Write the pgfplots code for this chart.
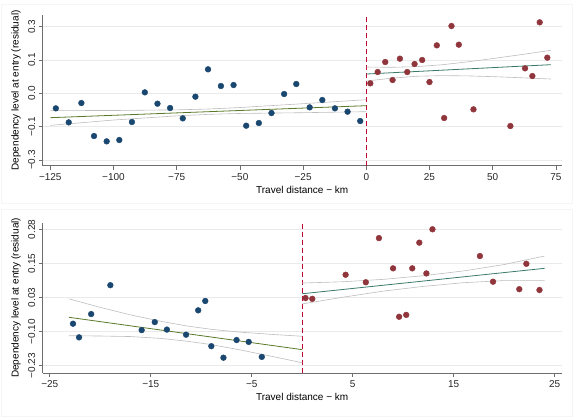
\documentclass[border=0pt]{standalone}
\usepackage{fontspec}
\setmainfont{Liberation Sans}
\usepackage{pgfplots}
\pgfplotsset{compat=1.18}
\definecolor{sblue}{HTML}{1A476F}
\definecolor{sred}{HTML}{90353B}
\definecolor{fitg}{HTML}{5A7A2A}
\definecolor{fitt}{HTML}{3A7A6A}
\definecolor{cig}{HTML}{BDBDBD}
\definecolor{vline}{HTML}{C10534}
\definecolor{gridc}{HTML}{EAEAEA}
\definecolor{axc}{HTML}{6E6E6E}
\pgfplotsset{mystyle/.style={
  scale only axis, width=519pt,
  axis x line*=bottom, axis y line*=left,
  axis line style={-, axc, line width=0.7pt},
  ymajorgrids, grid style={gridc, line width=0.6pt},
  tick align=outside, major tick length=4pt,
  tick style={axc, line width=0.7pt},
  every tick label/.append style={font=\fontsize{10}{12}\selectfont, text=black!85},
  yticklabel style={rotate=90, anchor=south},
  label style={font=\fontsize{11}{13}\selectfont, text=black!85},
  every axis y label/.style={at={(axis description cs:-0.0515,0.5)}, rotate=90, anchor=center},
  ylabel={Dependency level at entry (residual)},
  xlabel={Travel distance − km},
  clip=false,
}}
\begin{document}
\begin{tikzpicture}
\useasboundingbox (0,0) rectangle (573pt,-418pt);
\draw[gridc!50, line width=0.5pt] (1pt,-4pt) rectangle (572pt,-203pt);
\draw[gridc!50, line width=0.5pt] (1pt,-209pt) rectangle (572pt,-416pt);
% ---------------- top panel
\begin{axis}[mystyle,
  at={(42.7pt,-165.7pt)}, anchor=south west, height=150.7pt,
  xmin=-128, xmax=77.3, ymin=-0.217, ymax=0.235,
  xtick={-125,-100,-75,-50,-25,0,25,50,75},
  xticklabels={−125,−100,−75,−50,−25,0,25,50,75},
  ytick={-0.2,-0.1,0,0.1,0.2},
  yticklabel={\ifcase\ticknum −0.3\or −0.1\or 0.0\or 0.1\or 0.3\fi},
  every axis x label/.style={at={(axis description cs:0.5,-0.161)}, anchor=center},
]
\addplot[vline, line width=0.8pt, dash pattern=on 5pt off 3pt] coordinates {(0,-0.217) (0,0.235)};
\addplot[cig, line width=0.6pt] coordinates {(-125,-0.051) (-100,-0.0515) (-75,-0.0495) (-62.5,-0.047) (-50,-0.0425) (-25,-0.031) (0,-0.019)};
\addplot[cig, line width=0.6pt] coordinates {(-125,-0.096) (-100,-0.080) (-75,-0.0675) (-62.5,-0.063) (-50,-0.0603) (-25,-0.058) (0,-0.055)};
\addplot[fitg, line width=0.8pt] coordinates {(-125,-0.073) (0,-0.037)};
\addplot[cig, line width=0.6pt] coordinates {(0,0.079) (10,0.0781) (20,0.0801) (30,0.0858) (40,0.0944) (50,0.1043) (60,0.1148) (73,0.129)};
\addplot[cig, line width=0.6pt] coordinates {(0,0.037) (10,0.0455) (20,0.0513) (30,0.0532) (40,0.0524) (50,0.0501) (60,0.0472) (73,0.043)};
\addplot[fitt, line width=0.8pt] coordinates {(0,0.058) (73,0.086)};
\addplot[only marks, mark=*, mark size=2.9pt, sblue] coordinates {
(-122.8,-0.045) (-117.7,-0.087) (-112.7,-0.029) (-107.7,-0.128) (-102.7,-0.144)
(-97.7,-0.140) (-92.7,-0.086) (-87.6,0.003) (-82.6,-0.031) (-77.6,-0.044)
(-72.6,-0.075) (-67.6,-0.010) (-62.6,0.072) (-57.5,0.022) (-52.5,0.025)
(-47.5,-0.097) (-42.5,-0.089) (-37.5,-0.059) (-32.5,-0.002) (-27.7,0.028)
(-22.4,-0.042) (-17.4,-0.020) (-12.4,-0.045) (-7.4,-0.055) (-2.4,-0.083)};
\addplot[only marks, mark=*, mark size=2.9pt, sred] coordinates {
(1.6,0.030) (4.5,0.064) (7.5,0.094) (10.4,0.040) (13.3,0.104)
(16.2,0.064) (19.1,0.088) (22.1,0.100) (25.0,0.034) (27.9,0.144)
(30.8,-0.074) (33.7,0.202) (36.6,0.146) (42.4,-0.048) (57.0,-0.098)
(62.8,0.075) (65.7,0.052) (68.6,0.213) (71.6,0.107)};
\end{axis}
% ---------------- bottom panel
\begin{axis}[mystyle,
  at={(42.7pt,-373pt)}, anchor=south west, height=150.3pt,
  xmin=-25.7, xmax=25.7, ymin=-0.2573, ymax=0.3046,
  xtick={-25,-15,-5,5,15,25},
  xticklabels={−25,−15,−5,5,15,25},
  ytick={-0.23,-0.1025,0.025,0.1525,0.28},
  yticklabel={\ifcase\ticknum −0.23\or −0.10\or 0.03\or 0.15\or 0.28\fi},
  every axis x label/.style={at={(axis description cs:0.5,-0.158)}, anchor=center},
]
\addplot[vline, line width=0.8pt, dash pattern=on 5pt off 3pt] coordinates {(0,-0.2573) (0,0.3046)};
\addplot[cig, line width=0.6pt] coordinates {(-23.1,0.020) (-20,-0.012) (-17,-0.040) (-14,-0.064) (-11.5,-0.081) (-9,-0.094) (-6,-0.105) (-3,-0.113) (0,-0.120)};
\addplot[cig, line width=0.6pt] coordinates {(-23.1,-0.118) (-20,-0.119) (-17,-0.121) (-14,-0.128) (-11.5,-0.138) (-9,-0.151) (-6,-0.172) (-3,-0.195) (0,-0.219)};
\addplot[fitg, line width=0.8pt] coordinates {(-23.1,-0.049) (0,-0.170)};
\addplot[cig, line width=0.6pt] coordinates {(0,0.079) (4,0.0838) (8,0.0927) (12,0.1065) (16,0.1244) (20,0.1482) (24,0.180)};
\addplot[cig, line width=0.6pt] coordinates {(0,0.001) (4,0.0258) (8,0.0487) (12,0.0665) (16,0.0804) (20,0.0882) (24,0.088)};
\addplot[fitt, line width=0.8pt] coordinates {(0,0.039) (24,0.134)};
\addplot[only marks, mark=*, mark size=2.9pt, sblue] coordinates {
(-22.7,-0.073) (-22.1,-0.124) (-20.9,-0.037) (-19.0,0.071) (-15.9,-0.097)
(-14.6,-0.067) (-13.4,-0.095) (-11.5,-0.114) (-10.3,-0.023) (-9.6,0.012)
(-9.0,-0.157) (-7.8,-0.200) (-6.5,-0.134) (-5.3,-0.141) (-4.0,-0.197)};
\addplot[only marks, mark=*, mark size=2.9pt, sred] coordinates {
(0.33,0.023) (1.0,0.020) (4.3,0.110) (6.3,0.082) (7.6,0.247)
(9.0,0.134) (9.6,-0.047) (10.3,-0.040) (10.9,0.134) (11.6,0.230)
(12.3,0.115) (12.9,0.280) (17.6,0.180) (18.9,0.084) (21.5,0.056)
(22.2,0.151) (23.5,0.053)};
\end{axis}
\end{tikzpicture}
\end{document}
